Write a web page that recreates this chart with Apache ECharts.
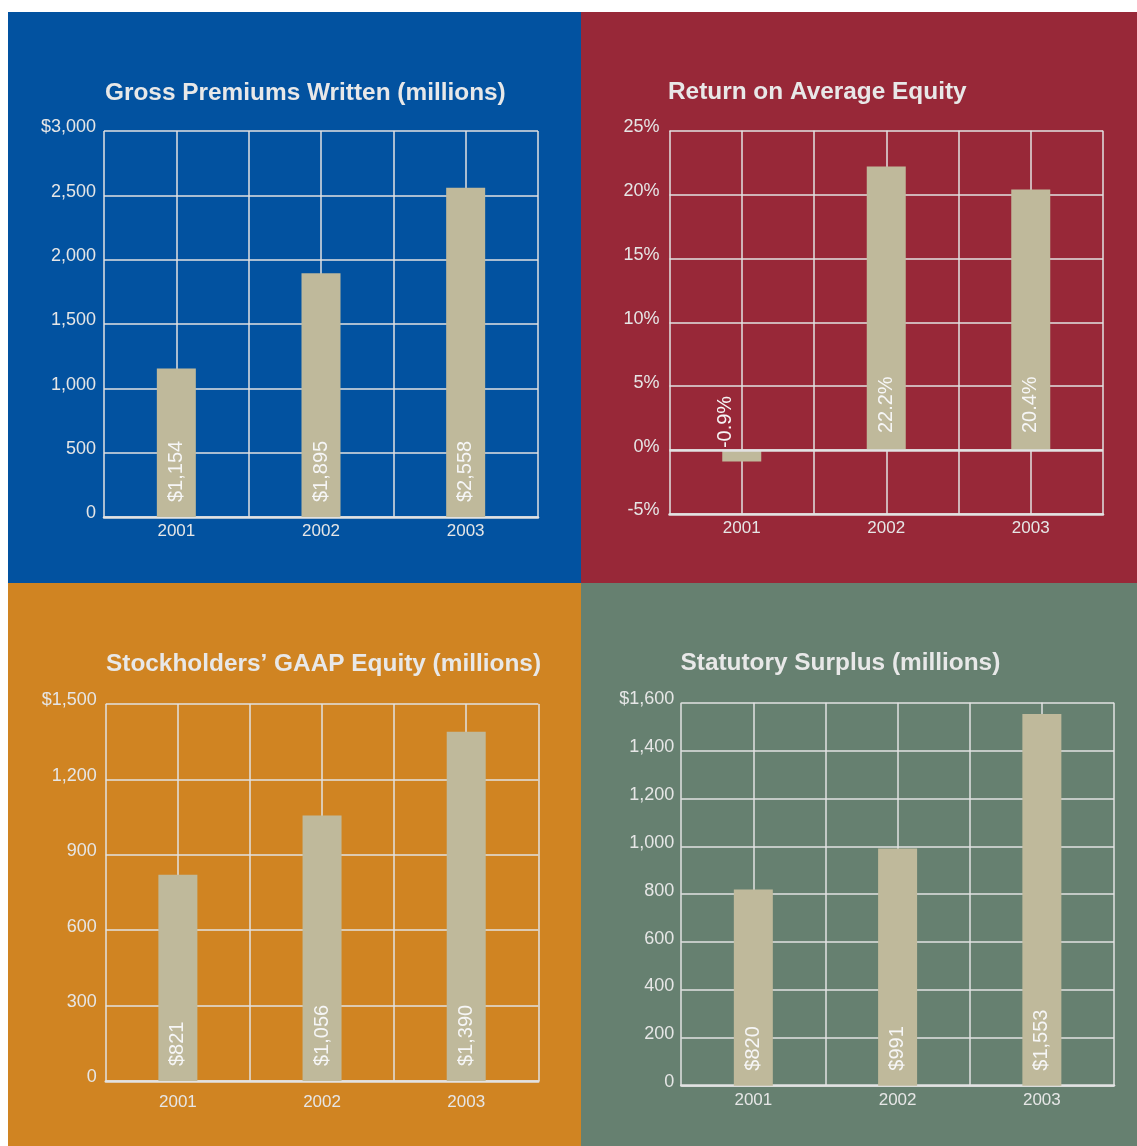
<!DOCTYPE html>
<html>
<head>
<meta charset="utf-8">
<title>Financial Highlights</title>
<script src="https://cdn.jsdelivr.net/npm/echarts@6/dist/echarts.min.js"></script>
<style>
  html, body { margin: 0; padding: 0; background: #fff; }
  #chart { width: 1137px; height: 1146px; }
</style>
</head>
<body>
<div id="chart"></div>
<script>
// data
const years = ["2001", "2002", "2003"];

const premiums = [1154, 1895, 2558];
const premiumLabels = ["$1,154", "$1,895", "$2,558"];
const premiumTicks = ["0", "500", "1,000", "1,500", "2,000", "2,500", "$3,000"];

const roe = [-0.9, 22.2, 20.4];
const roeLabels = ["-0.9%", "22.2%", "20.4%"];
const roeTicks = ["-5%", "0%", "5%", "10%", "15%", "20%", "25%"];

const equity = [821, 1056, 1390];
const equityLabels = ["$821", "$1,056", "$1,390"];
const equityTicks = ["0", "300", "600", "900", "1,200", "$1,500"];

const surplus = [820, 991, 1553];
const surplusLabels = ["$820", "$991", "$1,553"];
const surplusTicks = ["0", "200", "400", "600", "800", "1,000", "1,200", "1,400", "$1,600"];

const FONT = "Liberation Sans, Arial, Helvetica, sans-serif";
const LINE = "#e2e2e2";
const TEXT = "#e6e6e6";
const BAR = "#bfb99b";

// one entry per panel
const panels = [
  {
    title: "Gross Premiums Written (millions)", titlePos: [105, 81.5],
    bg: "#0252a0", box: [8, 12, 573, 571],
    grid: { left: 104, top: 131, width: 434, height: 386 },
    min: 0, max: 3000, step: 500, ticks: premiumTicks, labelMargin: 8, xMargin: 6,
    values: premiums, labels: premiumLabels
  },
  {
    title: "Return on Average Equity", titlePos: [668, 80],
    bg: "#982838", box: [581, 12, 556, 571],
    grid: { left: 669.5, top: 130.7, width: 433.5, height: 383.3 },
    min: -5, max: 25, step: 5, ticks: roeTicks, labelMargin: 10, xMargin: 6,
    values: roe, labels: roeLabels, zeroLine: true
  },
  {
    title: "Stockholders’ GAAP Equity (millions)", titlePos: [106, 652.5],
    bg: "#d08422", box: [8, 583, 573, 563],
    grid: { left: 105.8, top: 704, width: 432.5, height: 377 },
    min: 0, max: 1500, step: 300, ticks: equityTicks, labelMargin: 9, xMargin: 13,
    values: equity, labels: equityLabels
  },
  {
    title: "Statutory Surplus (millions)", titlePos: [680.5, 651.5],
    bg: "#668070", box: [581, 583, 556, 563],
    grid: { left: 681.2, top: 702.7, width: 432.8, height: 383 },
    min: 0, max: 1600, step: 200, ticks: surplusTicks, labelMargin: 7, xMargin: 6,
    values: surplus, labels: surplusLabels
  }
];

const chart = echarts.init(document.getElementById("chart"));

let grid = [], xAxis = [], yAxis = [], series = [], title = [], graphic = [];

panels.forEach((p, i) => {
  graphic.push({
    type: "rect", z: -10, silent: true,
    shape: { x: p.box[0], y: p.box[1], width: p.box[2], height: p.box[3] },
    style: { fill: p.bg }
  });
  title.push({
    text: p.title, left: p.titlePos[0], top: p.titlePos[1], padding: 0,
    textStyle: { color: "#e8e8e8", fontSize: 24.4, fontWeight: "bold", fontFamily: FONT }
  });
  grid.push(Object.assign({ containLabel: false }, p.grid));

  // category axis (years)
  xAxis.push({
    type: "category", gridIndex: i, data: years,
    axisLine: { onZero: false, lineStyle: { color: LINE, width: 2.5 } },
    axisTick: { show: false },
    splitLine: { show: false },
    axisLabel: { color: TEXT, fontSize: 17, fontFamily: FONT, margin: p.xMargin }
  });
  // hidden value axis, only to draw the vertical grid lines (boundaries + centres)
  xAxis.push({
    type: "value", gridIndex: i, min: 0, max: 6, interval: 1,
    axisLine: { show: false }, axisTick: { show: false }, axisLabel: { show: false },
    splitLine: { show: true, lineStyle: { color: LINE, width: 1.5 } }
  });

  const ticks = p.ticks;
  yAxis.push({
    type: "value", gridIndex: i, min: p.min, max: p.max, interval: p.step,
    axisLine: { show: false }, axisTick: { show: false },
    splitLine: { show: true, lineStyle: { color: LINE, width: 1.5 } },
    axisLabel: {
      color: TEXT, fontSize: 18, fontFamily: FONT, margin: p.labelMargin,
      verticalAlign: "bottom", lineHeight: 7,
      formatter: (v, idx) => ticks[idx]
    }
  });

  const labels = p.labels;
  let s = {
    type: "bar", xAxisIndex: i * 2, yAxisIndex: i, barWidth: 39,
    itemStyle: { color: BAR },
    data: p.values.map((v) => v < 0 ? { value: v, label: { position: [3.5, -2] } } : v),
    label: {
      show: true, position: "insideBottom", distance: 15, rotate: 90,
      align: "left", verticalAlign: "middle",
      color: "#f6f6f6", fontSize: 20, fontFamily: FONT,
      formatter: (params) => labels[params.dataIndex]
    }
  };
  if (p.zeroLine) {
    s.label.distance = 17;
    s.markLine = {
      silent: true, symbol: "none", label: { show: false },
      lineStyle: { color: LINE, width: 2.5, type: "solid" },
      data: [{ yAxis: 0 }]
    };
  }
  series.push(s);
});

chart.setOption({
  backgroundColor: "#ffffff",
  animation: false,
  graphic: graphic,
  title: title,
  grid: grid,
  xAxis: xAxis,
  yAxis: yAxis,
  series: series
});
</script>
</body>
</html>
